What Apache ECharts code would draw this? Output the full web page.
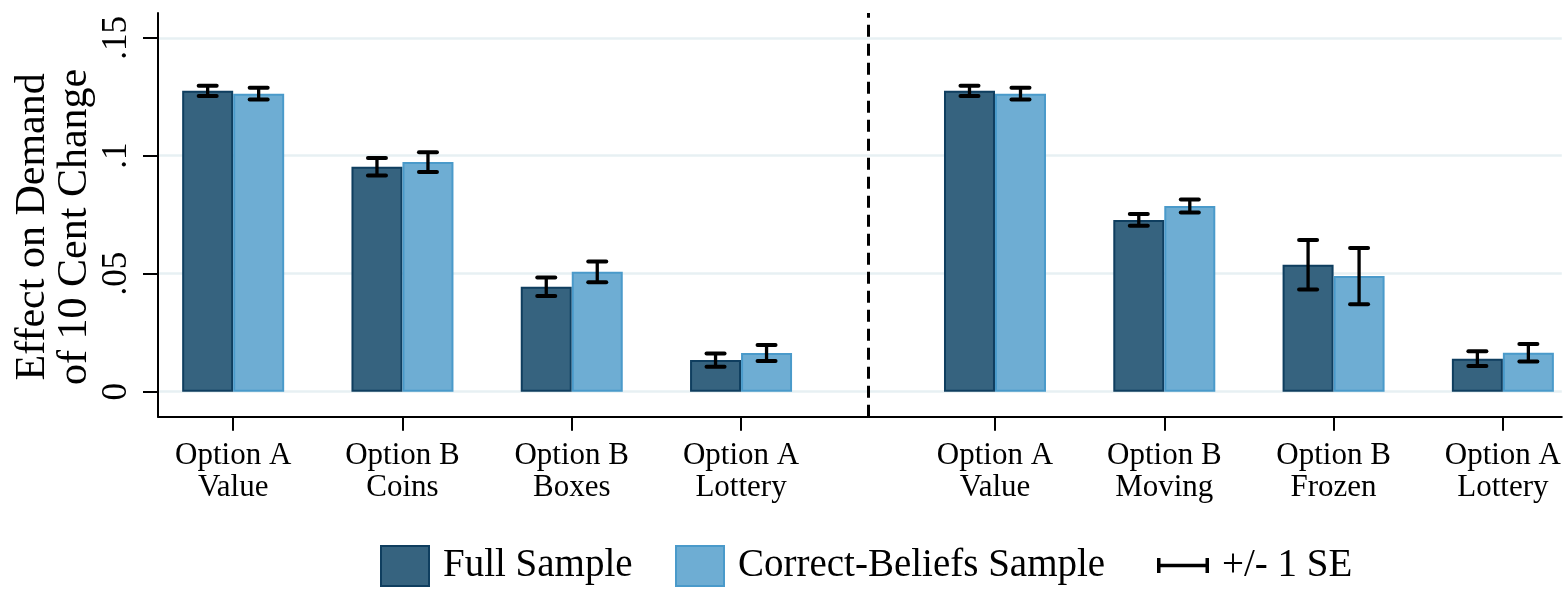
<!DOCTYPE html>
<html><head><meta charset="utf-8">
<script src="https://cdn.jsdelivr.net/npm/echarts@6/dist/echarts.min.js"></script>
<style>html,body{margin:0;padding:0;background:#fff}#c{width:1564px;height:590px}</style>
</head><body><div id="c"></div>
<script>
// ---- data ----
const categories = ['Option A\nValue','Option B\nCoins','Option B\nBoxes','Option A\nLottery',
                    'Option A\nValue','Option B\nMoving','Option B\nFrozen','Option A\nLottery'];
const slotPos = [1, 2, 3, 4, 5.5, 6.5, 7.5, 8.5];
const groupDivider = [4.75];
const fullSample    = [0.1275, 0.0953, 0.0445, 0.0134, 0.1275, 0.0728, 0.0538, 0.0140];
const fullSE        = [0.0022, 0.0037, 0.0039, 0.0028, 0.0022, 0.0025, 0.0105, 0.0031];
const correctSample = [0.1263, 0.0973, 0.0508, 0.0164, 0.1263, 0.0787, 0.0490, 0.0165];
const correctSE     = [0.0025, 0.0042, 0.0044, 0.0034, 0.0025, 0.0028, 0.0119, 0.0037];
const yTicks = [0, 0.05, 0.1, 0.15];
const yTickLabels = ['0', '.05', '.1', '.15'];

// ---- style ----
const FONT = 'Liberation Serif';
const BAR_W = 51;
const CAP = 9;
const DARK = '#36637f', DARK_B = '#0f3e5f';
const LIGHT = '#6eadd3', LIGHT_B = '#4a9aca';

function nearestIdx(arr, v){ let b=0; for(let i=1;i<arr.length;i++){ if(Math.abs(arr[i]-v)<Math.abs(arr[b]-v)) b=i; } return b; }

function errRender(side){
  return function(params, api){
    const x = api.value(0), lo = api.value(1), hi = api.value(2);
    const pLo = api.coord([x, lo]), pHi = api.coord([x, hi]);
    const cx = pLo[0] + side * BAR_W / 2;
    const stem = {stroke:'#000', lineWidth:3.3, lineCap:'butt'};
    const cap = {stroke:'#000', lineWidth:4, lineCap:'round'};
    return {type:'group', children:[
      {type:'line', shape:{x1:cx, y1:pLo[1], x2:cx, y2:pHi[1]}, style:stem},
      {type:'line', shape:{x1:cx-CAP, y1:pLo[1], x2:cx+CAP, y2:pLo[1]}, style:cap},
      {type:'line', shape:{x1:cx-CAP, y1:pHi[1], x2:cx+CAP, y2:pHi[1]}, style:cap}
    ]};
  };
}

const chart = echarts.init(document.getElementById('c'), null, {renderer:'canvas'});
const legendText = {fontFamily:FONT, fontSize:39, color:'#000', lineHeight:40, padding:[8,0,0,9]};
chart.setOption({
  animation:false,
  backgroundColor:'#fff',
  grid:{left:158, right:0, top:13, bottom:173.3, containLabel:false},
  legend:[
    {left:380, top:542, padding:0, itemWidth:48, itemHeight:40, selectedMode:false,
     data:[{name:'Full Sample', icon:'rect'}], textStyle:legendText},
    {left:675, top:542, padding:0, itemWidth:48, itemHeight:40, selectedMode:false,
     data:[{name:'Correct-Beliefs Sample', icon:'rect'}], textStyle:legendText},
    {left:1157, top:541.5, padding:0, itemWidth:52, itemHeight:15, selectedMode:false,
     data:[{name:'+/- 1 SE', icon:'path://M0,0H3.5V5.75H48.5V0H52V15H48.5V9.25H3.5V15H0Z', itemStyle:{color:'#000', borderWidth:0}}],
     textStyle:Object.assign({}, legendText, {padding:[8,0,0,8]})}
  ],
  xAxis:{
    type:'value', min:0.556, max:8.848,
    axisLine:{show:true, onZero:false, lineStyle:{color:'#000', width:2}},
    axisTick:{show:true, customValues:slotPos, length:14, lineStyle:{color:'#000', width:2}},
    axisLabel:{show:true, customValues:slotPos, margin:23, fontFamily:FONT, fontSize:31, lineHeight:32, color:'#000',
      formatter:v => categories[nearestIdx(slotPos, v)]},
    splitLine:{show:false}
  },
  yAxis:{
    type:'value', min:-0.0106, max:0.1605,
    axisLine:{show:true, onZero:false, lineStyle:{color:'#000', width:2}},
    axisTick:{show:true, customValues:yTicks, length:15, lineStyle:{color:'#000', width:2}},
    axisLabel:{show:true, customValues:yTicks, rotate:90, margin:24, fontFamily:FONT, fontSize:35, color:'#000',
      formatter:v => yTickLabels[nearestIdx(yTicks, v)]},
    splitLine:{show:true, lineStyle:{color:'#e7f0f3', width:2.5}},
    name:'Effect on Demand\nof 10 Cent Change',
    nameLocation:'middle', nameRotate:90, nameGap:62, nameMoveOverlap:false,
    nameTextStyle:{fontFamily:FONT, fontSize:42, lineHeight:42, color:'#000', padding:[0,24,0,0]}
  },
  series:[
    {type:'bar', name:'Full Sample', data:slotPos.map((p,i)=>[p, fullSample[i]]),
     barWidth:BAR_W, barGap:'0%', itemStyle:{color:DARK, borderColor:DARK_B, borderWidth:2}},
    {type:'bar', name:'Correct-Beliefs Sample', data:slotPos.map((p,i)=>[p, correctSample[i]]),
     barWidth:BAR_W, barGap:'0%', itemStyle:{color:LIGHT, borderColor:LIGHT_B, borderWidth:2}},
    {type:'custom', name:'+/- 1 SE', renderItem:errRender(-1), z:5, itemStyle:{color:'#000'},
     encode:{x:0, y:[1,2]},
     data:slotPos.map((p,i)=>[p, fullSample[i]-fullSE[i], fullSample[i]+fullSE[i]]),
     markLine:{silent:true, symbol:'none', label:{show:false}, animation:false,
       lineStyle:{color:'#000', width:3, type:[12,7]},
       data:groupDivider.map(x => ({xAxis:x}))}},
    {type:'custom', name:'+/- 1 SE', renderItem:errRender(1), z:5, itemStyle:{color:'#000'},
     encode:{x:0, y:[1,2]},
     data:slotPos.map((p,i)=>[p, correctSample[i]-correctSE[i], correctSample[i]+correctSE[i]])}
  ]
});
</script></body></html>
